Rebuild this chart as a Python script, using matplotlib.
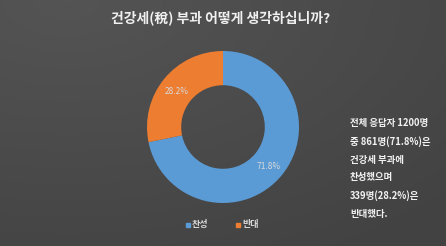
import matplotlib
matplotlib.use("Agg")
import matplotlib.pyplot as plt
import numpy as np

plt.rcParams["font.family"] = ["Noto Sans CJK KR", "DejaVu Sans"]

labels = ["찬성", "반대"]
values = [71.8, 28.2]
colors = ["#5B9BD5", "#ED7D31"]
title = "건강세(稅) 부과 어떻게 생각하십니까?"
note = "전체 응답자 1200명\n중 861명(71.8%)은\n건강세 부과에\n찬성했으며\n339명(28.2%)은\n반대했다."

W, H = 446, 246
fig = plt.figure(figsize=(W / 100, H / 100), dpi=100)

# background gradient
bg = fig.add_axes([0, 0, 1, 1])
yy, xx = np.mgrid[0:1:200j, 0:1:400j]
r = np.sqrt((xx - 0.15) ** 2 + (yy - 0.0) ** 2)
shade = 0.33 - 0.07 * np.clip(r, 0, 1.2) / 1.2
bg.imshow(np.dstack([shade, shade, shade]), extent=[0, 1, 0, 1], aspect="auto", origin="upper")
bg.axis("off")

# donut
cx, cy, rad = 223, 246 - 127, 76
ax = fig.add_axes([(cx - rad) / W, (cy - rad) / H, 2 * rad / W, 2 * rad / H])
wedges, _ = ax.pie(values, colors=colors, startangle=90, counterclock=False,
                   radius=1.0, wedgeprops=dict(width=0.45, edgecolor="none"))
ax.set_xlim(-1, 1)
ax.set_ylim(-1, 1)
ax.set_aspect("equal")
ax.axis("off")

# percentage labels
start = 90
for v, w in zip(values, wedges):
    mid = np.deg2rad(start - v * 3.6 / 2)
    start -= v * 3.6
    ax.text(0.78 * np.cos(mid), 0.78 * np.sin(mid) - 0.03, f"{v}%", ha="center", va="center",
            fontsize=6, color="#d9d9d9")

fig.text(221 / W, 1 - 18 / H, title, ha="center", va="center", fontsize=10,
         fontweight="bold", color="#f0f0f0")

fig.text(350 / W, 1 - 118 / H, note, ha="left", va="top", fontsize=6.8,
         fontweight="bold", color="#f2f2f2", linespacing=1.95)

# legend
for i, (lab, col) in enumerate(zip(labels, colors)):
    x = 186 + i * 50
    fig.patches.append(plt.Rectangle((x / W, 1 - 226.5 / H), 4 / W, 4 / H,
                                     transform=fig.transFigure, color=col))
    fig.text((x + 6) / W, 1 - 224.5 / H, lab, ha="left", va="center",
             fontsize=6.5, fontweight="bold", color="#d9d9d9")

fig.savefig("out.png", dpi=100)
